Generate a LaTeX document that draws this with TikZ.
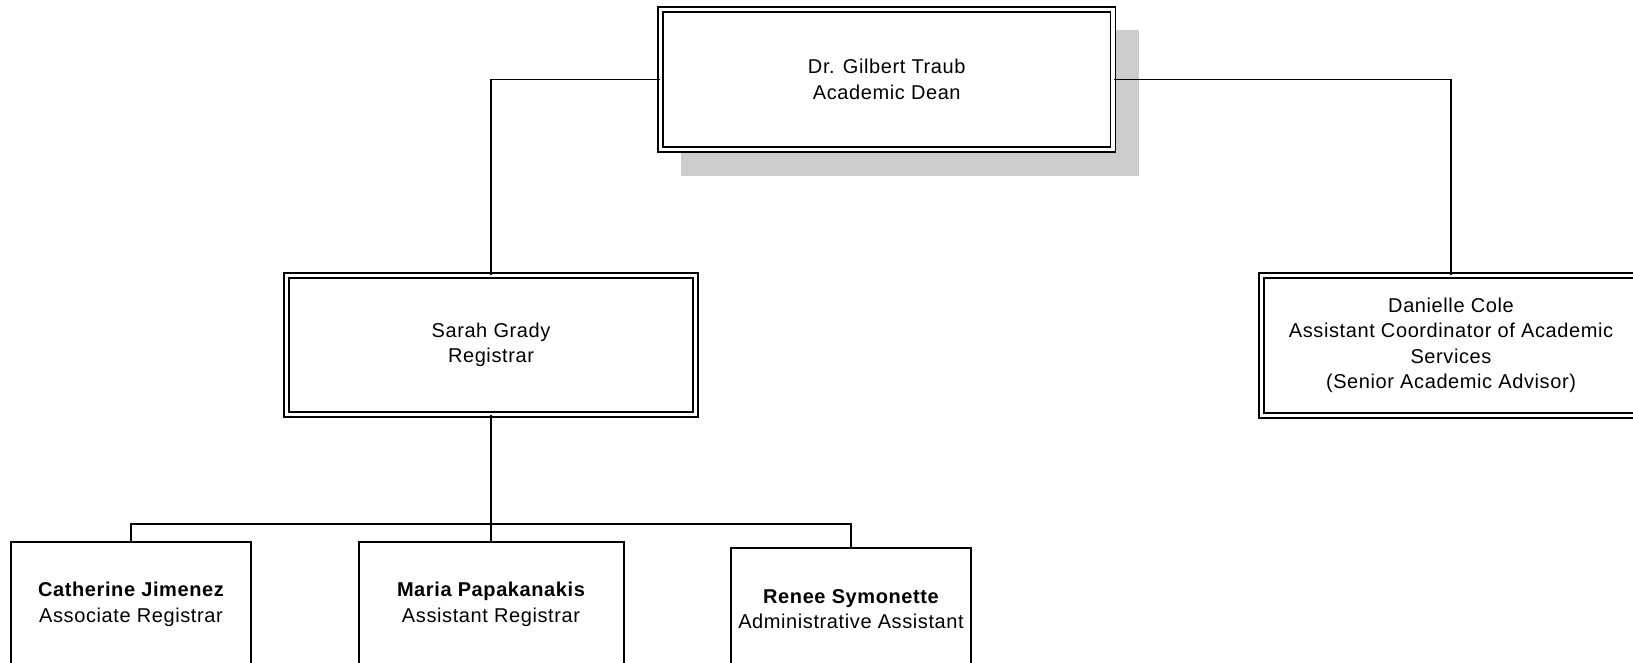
\documentclass[tikz,border=0pt]{standalone}
\usepackage{fontspec}
\setmainfont{Liberation Sans}[LetterSpace=3]
\begin{document}
\begin{tikzpicture}[x=1pt,y=-1pt,
  txt/.style={align=center,font=\fontsize{20}{25.5}\selectfont,inner sep=0pt},
  dbox/.style={txt,draw,fill=white,line width=1.5pt,double,double distance=3.5pt,minimum width=409pt,minimum height=139pt},
  sbox/.style={txt,draw,fill=white,line width=2pt,minimum width=240pt},
  conn/.style={line width=1.5pt}]
\useasboundingbox (0,0) rectangle (1633,663);
\clip (0,0) rectangle (1633,663);
% shadow
\fill[black!20] (681,30) rectangle (1139,176);
% boxes
\node[dbox,minimum width=452.5pt,minimum height=140pt] (dean) at (886.75,79.5) {Dr. Gilbert Traub\\Academic Dean};
\node[dbox] (sarah) at (491,345) {Sarah Grady\\Registrar};
\node[dbox,minimum width=379pt,minimum height=140pt] (cole) at (1451,345.5) {Danielle Cole\\Assistant Coordinator of Academic\\Services\\(Senior Academic Advisor)};
\node[sbox,minimum height=125pt] (cath) at (131,604.5) {{\bfseries Catherine Jimenez}\\Associate Registrar};
\node[sbox,minimum width=265pt,minimum height=125pt] (maria) at (491,604.5) {{\bfseries Maria Papakanakis}\\Assistant Registrar};
\node[sbox,minimum height=122pt] (renee) at (851,609) {{\bfseries Renee Symonette}\\Administrative Assistant};
% connectors
\coordinate (bus) at (491,524);
\draw[conn] (dean.west) -| (sarah.north);
\draw[conn] (dean.east) -| (cole.north);
\draw[conn] (sarah.south) -- (maria.north);
\draw[conn] (cath.north) |- (bus) -| (renee.north);
\end{tikzpicture}
\end{document}
